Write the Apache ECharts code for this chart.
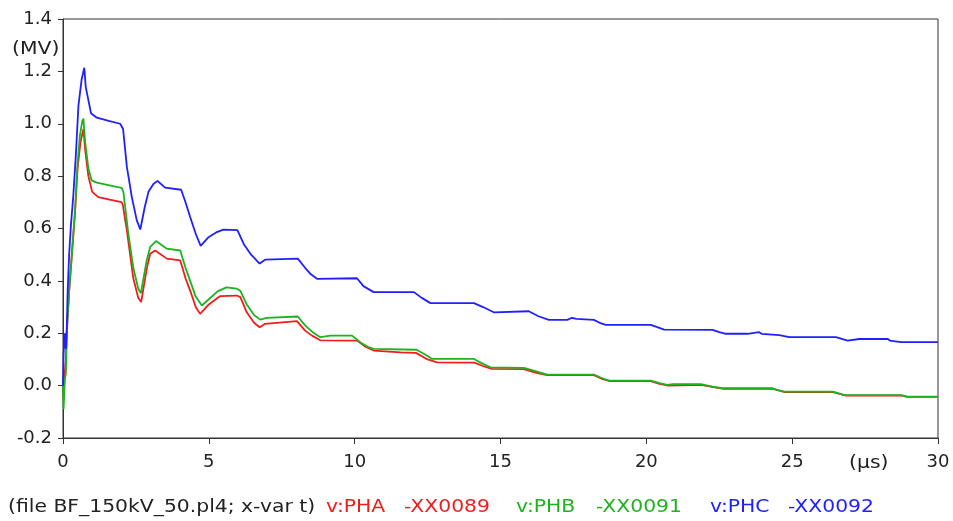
<!DOCTYPE html>
<html>
<head>
<meta charset="utf-8">
<script src="https://cdn.jsdelivr.net/npm/echarts@6/dist/echarts.min.js"></script>
<style>
  html, body { margin: 0; padding: 0; background: #fff; }
  #chart { width: 953px; height: 521px; }
</style>
</head>
<body>
<div id="chart"></div>
<script>
// time axis (us) and voltages (MV)
var tPHA = [0, 0.02, 0.06, 0.1, 0.13, 0.21, 0.3, 0.41, 0.5, 0.6, 0.7, 0.76, 0.87, 1.0, 1.21, 1.6, 2.01, 2.05, 2.19, 2.41, 2.58, 2.68, 2.87, 2.99, 3.16, 3.56, 4.02, 4.2, 4.36, 4.55, 4.7, 5.0, 5.39, 5.96, 6.08, 6.3, 6.55, 6.74, 6.93, 8.02, 8.3, 8.55, 8.82, 10.08, 10.35, 10.65, 11.57, 12.1, 12.5, 12.83, 14.1, 14.4, 14.7, 15.8, 16.2, 16.6, 18.2, 18.45, 18.75, 20.15, 20.45, 20.75, 21.87, 22.3, 22.65, 24.35, 24.75, 26.4, 26.85, 28.8, 28.95, 30];
var vPHA = [0, -0.05, 0.05, 0.1, 0.2, 0.36, 0.5, 0.66, 0.83, 0.93, 0.98, 0.9, 0.8, 0.74, 0.72, 0.71, 0.701, 0.69, 0.593, 0.41, 0.335, 0.319, 0.446, 0.504, 0.516, 0.485, 0.478, 0.41, 0.363, 0.3, 0.274, 0.31, 0.342, 0.344, 0.338, 0.28, 0.24, 0.223, 0.236, 0.246, 0.21, 0.19, 0.173, 0.172, 0.15, 0.134, 0.127, 0.125, 0.1, 0.089, 0.088, 0.075, 0.064, 0.063, 0.05, 0.04, 0.04, 0.027, 0.017, 0.017, 0.007, 0.0, 0.003, -0.006, -0.012, -0.012, -0.025, -0.025, -0.038, -0.038, -0.043, -0.043];

var tPHB = [0, 0.02, 0.06, 0.1, 0.13, 0.21, 0.3, 0.41, 0.5, 0.58, 0.66, 0.7, 0.76, 0.87, 0.98, 1.16, 1.6, 2.01, 2.07, 2.24, 2.41, 2.58, 2.67, 2.87, 2.99, 3.19, 3.56, 4.02, 4.2, 4.36, 4.55, 4.76, 5.0, 5.3, 5.6, 5.96, 6.08, 6.3, 6.55, 6.76, 6.99, 8.05, 8.3, 8.55, 8.82, 9.17, 9.91, 10.2, 10.45, 10.65, 12.12, 12.4, 12.66, 14.09, 14.35, 14.66, 15.8, 16.2, 16.6, 18.2, 18.45, 18.72, 20.15, 20.45, 20.72, 20.9, 21.87, 22.27, 22.61, 24.33, 24.5, 24.73, 26.39, 26.6, 26.79, 28.73, 28.9, 30];
var vPHB = [0, -0.09, 0.02, 0.05, 0.21, 0.36, 0.49, 0.66, 0.85, 0.956, 1.01, 1.02, 0.93, 0.83, 0.784, 0.775, 0.765, 0.755, 0.74, 0.58, 0.45, 0.37, 0.353, 0.478, 0.53, 0.552, 0.523, 0.516, 0.45, 0.4, 0.34, 0.306, 0.33, 0.36, 0.375, 0.37, 0.362, 0.31, 0.27, 0.252, 0.259, 0.264, 0.23, 0.205, 0.185, 0.191, 0.191, 0.165, 0.148, 0.14, 0.137, 0.12, 0.102, 0.102, 0.086, 0.07, 0.068, 0.055, 0.042, 0.042, 0.03, 0.019, 0.019, 0.01, 0.003, 0.006, 0.006, -0.004, -0.01, -0.01, -0.017, -0.023, -0.023, -0.03, -0.036, -0.036, -0.042, -0.042];

var tPHC = [0, 0.02, 0.06, 0.1, 0.13, 0.16, 0.21, 0.27, 0.35, 0.44, 0.53, 0.64, 0.73, 0.78, 0.87, 0.96, 1.16, 1.6, 1.96, 2.06, 2.19, 2.36, 2.53, 2.65, 2.8, 2.93, 3.1, 3.24, 3.5, 4.05, 4.2, 4.36, 4.55, 4.72, 4.99, 5.25, 5.5, 5.98, 6.2, 6.45, 6.74, 6.93, 8.05, 8.3, 8.5, 8.71, 10.08, 10.3, 10.65, 12.03, 12.3, 12.6, 14.09, 14.4, 14.77, 15.97, 16.3, 16.66, 17.29, 17.45, 17.6, 18.2, 18.4, 18.61, 20.15, 20.35, 20.61, 22.27, 22.5, 22.73, 23.47, 23.53, 23.87, 23.95, 24.56, 24.9, 26.5, 26.56, 26.9, 27.3, 28.28, 28.35, 28.73, 30];
var vPHC = [0, 0.12, 0.2, 0.14, 0.22, 0.36, 0.5, 0.61, 0.72, 0.88, 1.07, 1.17, 1.214, 1.14, 1.09, 1.04, 1.023, 1.01, 1.0, 0.98, 0.835, 0.72, 0.631, 0.596, 0.68, 0.74, 0.77, 0.782, 0.756, 0.748, 0.7, 0.644, 0.58, 0.534, 0.567, 0.585, 0.596, 0.594, 0.54, 0.5, 0.466, 0.481, 0.485, 0.45, 0.425, 0.408, 0.41, 0.38, 0.357, 0.357, 0.335, 0.315, 0.315, 0.3, 0.28, 0.284, 0.265, 0.251, 0.251, 0.259, 0.255, 0.251, 0.24, 0.232, 0.232, 0.224, 0.214, 0.213, 0.204, 0.198, 0.198, 0.204, 0.204, 0.198, 0.193, 0.185, 0.185, 0.178, 0.172, 0.178, 0.178, 0.172, 0.166, 0.166];

var seriesNames = ['v:PHA', 'v:PHB', 'v:PHC'];
var nodeNames = ['-XX0089', '-XX0091', '-XX0092'];
var colors = ['#f01c1c', '#1db31d', '#2020ff'];
var fileLabel = '(file BF_150kV_50.pl4; x-var t)';

function pairs(t, v) {
    var out = [];
    for (var i = 0; i < t.length; i++) out.push([t[i], v[i]]);
    return out;
}

var FONT = 'DejaVu Sans';
var myChart = echarts.init(document.getElementById('chart'));

// text in the original is a bit wide, stretch it a little
function label(x, y, txt, col) {
    return { type: 'text', x: x, y: y, scaleX: 1.13, style: { text: txt, font: '18px ' + FONT, fill: col, textVerticalAlign: 'middle' } };
}

// legend row at the bottom, plain coloured text like the ATP plot
var legendX = [326, 404, 516, 596, 710, 788];
var graphics = [
    label(12, 49, '(MV)', '#222'),
    label(849, 463, '(\u00b5s)', '#222'),
    label(8, 507, fileLabel, '#222')
];
for (var k = 0; k < 3; k++) {
    graphics.push(label(legendX[2 * k], 507, seriesNames[k], colors[k]));
    graphics.push(label(legendX[2 * k + 1], 507, nodeNames[k], colors[k]));
}

var option = {
    animation: false,
    backgroundColor: '#fff',
    grid: {
        left: 63, right: 15, top: 19, bottom: 83,
        show: true, borderColor: '#333', borderWidth: 1, backgroundColor: '#fff'
    },
    xAxis: {
        type: 'value', min: 0, max: 30, interval: 5,
        axisLine: { onZero: false, lineStyle: { color: '#333', width: 1 } },
        axisTick: { show: true, length: 6, lineStyle: { color: '#333' } },
        axisLabel: { margin: 15, fontFamily: FONT, fontSize: 18, color: '#222' },
        splitLine: { show: false }
    },
    yAxis: {
        type: 'value', min: -0.2, max: 1.4, interval: 0.2,
        axisLine: { show: true, onZero: false, lineStyle: { color: '#333', width: 1 } },
        axisTick: { show: true, length: 5, lineStyle: { color: '#333' } },
        axisLabel: {
            margin: 11, fontFamily: FONT, fontSize: 18, color: '#222',
            formatter: function (v) { return v.toFixed(1); }
        },
        splitLine: { show: false }
    },
    graphic: graphics,
    series: [
        { name: seriesNames[0], type: 'line', data: pairs(tPHA, vPHA), showSymbol: false, lineStyle: { color: colors[0], width: 1.8 }, z: 2 },
        { name: seriesNames[1], type: 'line', data: pairs(tPHB, vPHB), showSymbol: false, lineStyle: { color: colors[1], width: 1.8 }, z: 3 },
        { name: seriesNames[2], type: 'line', data: pairs(tPHC, vPHC), showSymbol: false, lineStyle: { color: colors[2], width: 1.8 }, z: 4 }
    ]
};
myChart.setOption(option, true);
</script>
</body>
</html>
